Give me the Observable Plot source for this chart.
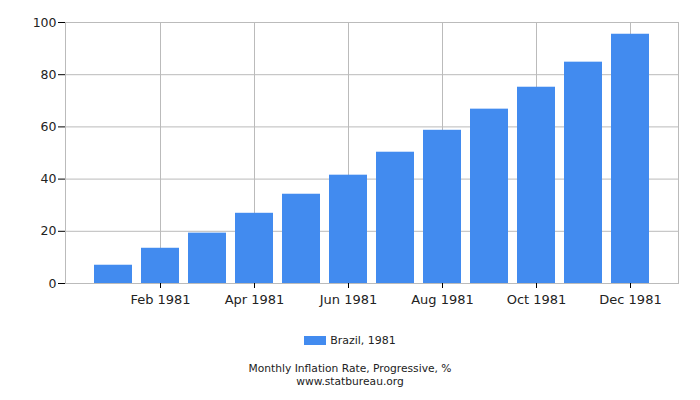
<!DOCTYPE html>
<html>
<head>
<meta charset="utf-8">
<script src="https://cdn.jsdelivr.net/npm/d3@7"></script>
<script src="https://cdn.jsdelivr.net/npm/@observablehq/plot@0.6"></script>
<style>
  body { margin: 0; background: #fff; font-family: "DejaVu Sans", sans-serif; }
  #chart svg { display: block; }
  .legend { display: flex; justify-content: center; align-items: center; height: 20px; margin-top: 15px; font-size: 11px; color: #222; }
  .swatch { width: 22px; height: 9px; background: #428bef; margin-right: 4px; }
  .caption { text-align: center; font-size: 10.7px; color: #222; margin-top: 13px; }
  .caption div { height: 12.5px; line-height: 12.5px; }
</style>
</head>
<body>
<div id="chart"></div>
<div class="legend"><div class="swatch"></div><span>Brazil, 1981</span></div>
<div class="caption"><div>Monthly Inflation Rate, Progressive, %</div><div>www.statbureau.org</div></div>
<script>
const months = ["Jan 1981","Feb 1981","Mar 1981","Apr 1981","May 1981","Jun 1981","Jul 1981","Aug 1981","Sep 1981","Oct 1981","Nov 1981","Dec 1981"];
const values = [7.0, 13.5, 19.3, 26.9, 34.2, 41.5, 50.3, 58.7, 66.8, 75.2, 84.8, 95.5];
const xTicks = ["Feb 1981","Apr 1981","Jun 1981","Aug 1981","Oct 1981","Dec 1981"];
const yTicks = [0, 20, 40, 60, 80, 100];

const data = months.map((m, i) => ({month: m, value: values[i]}));

const chart = Plot.plot({
  width: 700,
  height: 315,
  marginLeft: 65,
  marginRight: 22,
  marginTop: 22,
  marginBottom: 32,
  style: {fontFamily: "DejaVu Sans, sans-serif", fontSize: "12px", color: "#222"},
  x: {domain: months, type: "band", paddingInner: 0.2, paddingOuter: 0.6, label: null},
  y: {domain: [0, 100], label: null},
  marks: [
    Plot.gridY(yTicks, {stroke: "#bbb", strokeOpacity: 1}),
    Plot.gridX(xTicks, {stroke: "#bbb", strokeOpacity: 1}),
    Plot.barY(data, {x: "month", y: "value", fill: "#428bef"}),
    Plot.frame({stroke: "#bbb"}),
    Plot.axisY({ticks: yTicks, tickSize: 7, tickPadding: 2, label: null, stroke: "#000", fontSize: 12.5}),
    Plot.axisX({ticks: xTicks, tickSize: 5, tickPadding: 6, label: null, stroke: "#000", fontSize: 13})
  ]
});
document.getElementById("chart").append(chart);
</script>
</body>
</html>
